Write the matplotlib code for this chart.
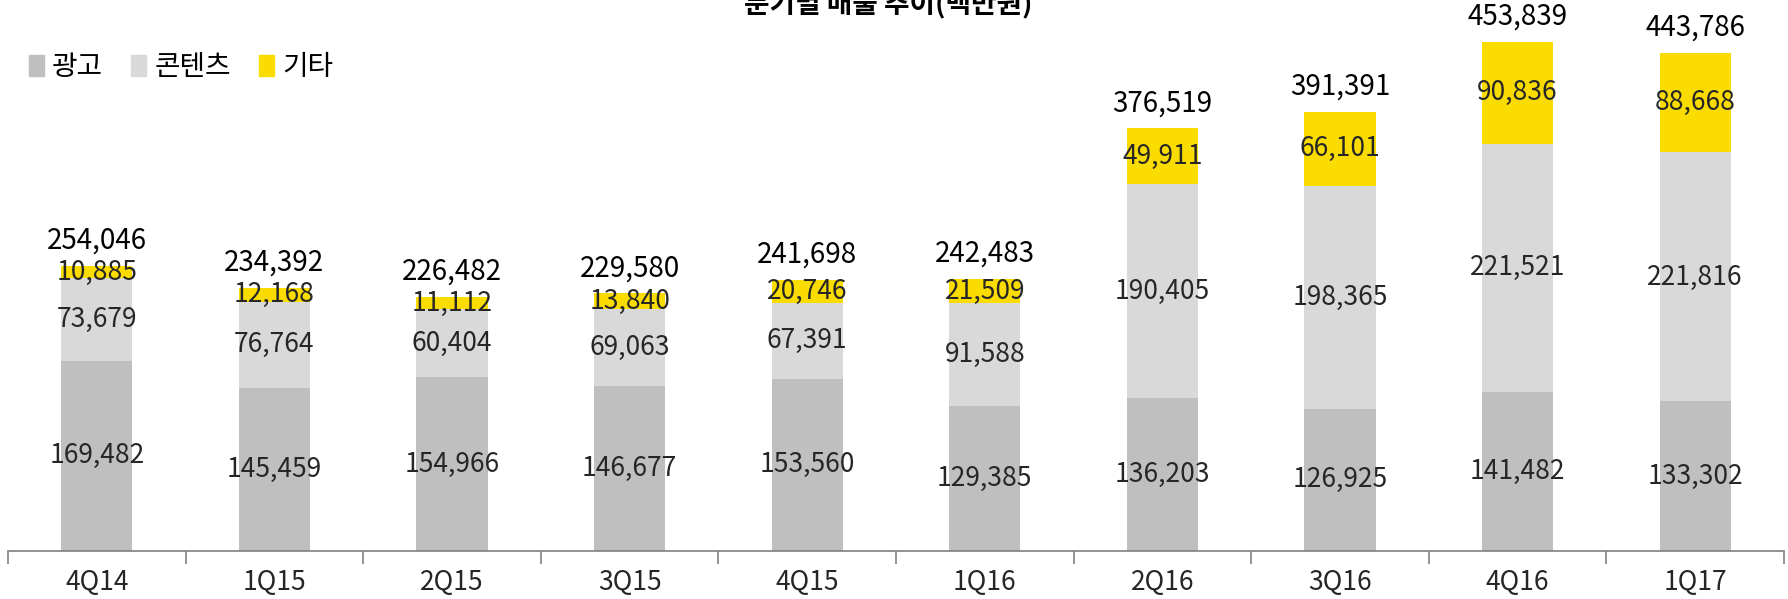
import matplotlib
matplotlib.use("Agg")
import matplotlib.pyplot as plt
import numpy as np
from matplotlib.patches import Patch

plt.rcParams['font.family'] = ['Noto Sans CJK KR', 'DejaVu Sans']

categories = ["4Q14", "1Q15", "2Q15", "3Q15", "4Q15", "1Q16", "2Q16", "3Q16", "4Q16", "1Q17"]
ads = [169482, 145459, 154966, 146677, 153560, 129385, 136203, 126925, 141482, 133302]
content = [73679, 76764, 60404, 69063, 67391, 91588, 190405, 198365, 221521, 221816]
other = [10885, 12168, 11112, 13840, 20746, 21509, 49911, 66101, 90836, 88668]
totals = [254046, 234392, 226482, 229580, 241698, 242483, 376519, 391391, 453839, 443786]
series_names = ["광고", "콘텐츠", "기타"]
title = "분기별 매출 추이(백만원)"

colors = ["#BFBFBF", "#D9D9D9", "#FADC00"]

fig = plt.figure(figsize=(17.88, 5.99), dpi=100)
ax = fig.add_axes([8/1788, 48/599, 1776/1788, 551/599])
x = np.arange(len(categories))
w = 0.4
ads_a = np.array(ads); con_a = np.array(content); oth_a = np.array(other)
ax.bar(x, ads_a, w, color=colors[0])
ax.bar(x, con_a, w, bottom=ads_a, color=colors[1])
ax.bar(x, oth_a, w, bottom=ads_a + con_a, color=colors[2])

lab_col = "#262626"
fs = 19
for i in range(len(x)):
    ax.text(x[i], ads_a[i] / 2, f"{ads[i]:,}", ha='center', va='center', fontsize=fs, color=lab_col, fontweight='light')
    ax.text(x[i], ads_a[i] + con_a[i] / 2, f"{content[i]:,}", ha='center', va='center', fontsize=fs, color=lab_col, fontweight='light')
    ax.text(x[i], ads_a[i] + con_a[i] + oth_a[i] / 2, f"{other[i]:,}", ha='center', va='center', fontsize=fs, color=lab_col, fontweight='light')
    ax.annotate(f"{totals[i]:,}", (x[i], totals[i]), xytext=(0, 25), textcoords='offset pixels',
                ha='center', va='center', fontsize=20, color='black', fontweight='medium')

ax.set_xlim(-0.5, len(categories) - 0.5)
ax.set_ylim(0, 491000)
for s in ['left', 'right', 'top']:
    ax.spines[s].set_visible(False)
ax.spines['bottom'].set_color('#808080')
ax.spines['bottom'].set_linewidth(1.2)
ax.set_yticks([])
ax.set_xticks(np.arange(-0.5, len(categories), 1.0))
ax.set_xticklabels([])
ax.tick_params(axis='x', which='major', length=9, color='#808080', width=1.2, direction='out')
ax.set_xticks(x, minor=True)
ax.set_xticklabels(categories, minor=True, fontsize=fs, color='#262626', fontweight='light')
ax.tick_params(axis='x', which='minor', length=0, pad=13)

fig.text(0.497, 0.992, title, ha='center', va='center', fontsize=20, fontweight='bold')

handles = [Patch(color=c) for c in colors]
fig.legend(handles, series_names, loc='center left', bbox_to_anchor=(0.002, 0.888), ncol=3,
           frameon=False, fontsize=20, handlelength=0.55, handleheight=0.8, handletextpad=0.3,
           columnspacing=1.0)

fig.savefig("out.png", dpi=100)
